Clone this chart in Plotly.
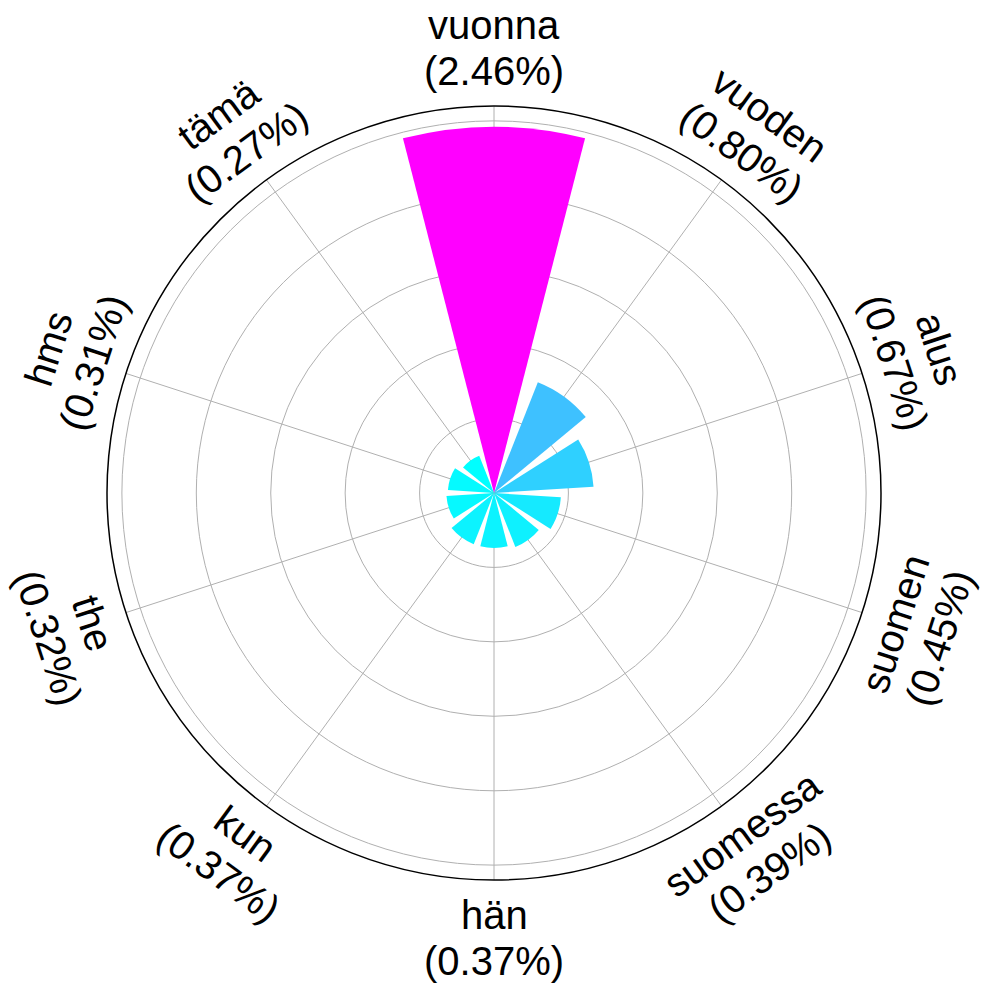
import math
import plotly.graph_objects as go

words = ["vuonna", "vuoden", "alus", "suomen", "suomessa", "hän", "kun", "the", "hms", "tämä"]
shares = [2.46, 0.80, 0.67, 0.45, 0.39, 0.37, 0.37, 0.32, 0.31, 0.27]

W, H = 987, 989
CX, CY, R = 494, 493, 387  # polar centre and radius in pixels
LABEL_R = 445
HALF_LINE = 23
n = len(words)
step = 360 / n

fig = go.Figure()
fig.add_trace(go.Barpolar(
    r=shares,
    theta=words,
    width=[0.8] * n,
    marker=dict(color=shares, colorscale=[[0, "#00ffff"], [1, "#ff00ff"]],
                cmin=min(shares), cmax=max(shares), line=dict(width=0)),
    showlegend=False,
    hoverinfo="skip",
))

annotations = []
font = dict(family="Liberation Sans, Arial, sans-serif", size=40, color="black")
for i, (w, s) in enumerate(zip(words, shares)):
    ang = i * step
    rad = math.radians(ang)
    px = CX + LABEL_R * math.sin(rad)
    py = CY - LABEL_R * math.cos(rad)  # pixel y, downward
    if ang <= 90:
        rot = ang
    elif ang < 270:
        rot = ang - 180
    else:
        rot = ang - 360
    rr = math.radians(rot)
    ux, uy = math.sin(rr), -math.cos(rr)  # text "up" direction in pixel coords
    for txt, sgn in ((w, 1), (f"({s:.2f}%)", -1)):
        lx = px + sgn * HALF_LINE * ux
        ly = py + sgn * HALF_LINE * uy
        annotations.append(dict(
            x=lx / W, y=1 - ly / H, xref="paper", yref="paper",
            text=txt, showarrow=False,
            xanchor="center", yanchor="middle", textangle=rot,
            font=font,
        ))

fig.update_layout(
    width=W, height=H,
    margin=dict(l=0, r=0, t=0, b=0),
    paper_bgcolor="white",
    annotations=annotations,
    polar=dict(
        domain=dict(x=[(CX - R) / W, (CX + R) / W], y=[1 - (CY + R) / H, 1 - (CY - R) / H]),
        bgcolor="white",
        angularaxis=dict(
            rotation=90, direction="clockwise", type="category",
            showticklabels=False, ticks="",
            showgrid=True, gridcolor="#b0b0b0", gridwidth=1,
            showline=True, linecolor="black", linewidth=1.5,
        ),
        radialaxis=dict(
            range=[0, 2.6], dtick=0.5, tick0=0,
            showticklabels=False, ticks="", showline=False,
            showgrid=True, gridcolor="#b0b0b0", gridwidth=1,
        ),
    ),
)

fig.write_html("out.html")
